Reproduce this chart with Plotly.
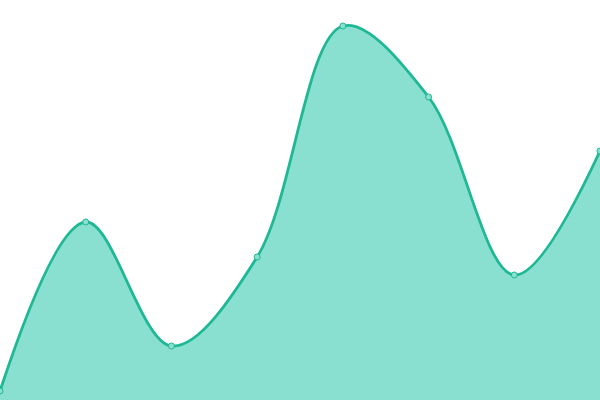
import plotly.graph_objects as go

categories = [0, 1, 2, 3, 4, 5, 6, 7]
values = [9, 178, 54, 143, 374, 303, 125, 249]

fig = go.Figure()
fig.add_trace(go.Scatter(
    x=categories, y=values,
    mode="lines+markers",
    line=dict(shape="spline", smoothing=1.0, color="#1fb894", width=2.8),
    fill="tozeroy", fillcolor="#8ae0d0",
    marker=dict(size=6, color="#8ae0d0", line=dict(color="#1fb894", width=1)),
    cliponaxis=False,
    hoverinfo="skip",
))
fig.update_layout(
    width=600, height=400,
    margin=dict(l=0, r=0, t=0, b=0),
    paper_bgcolor="white", plot_bgcolor="white",
    showlegend=False,
    xaxis=dict(range=[0, 7], visible=False, showgrid=False, zeroline=False),
    yaxis=dict(range=[0, 400], visible=False, showgrid=False, zeroline=False),
)
fig.write_html("out.html", config={"displayModeBar": False},
               post_script="document.body.style.margin='0';document.body.style.overflow='hidden';")
